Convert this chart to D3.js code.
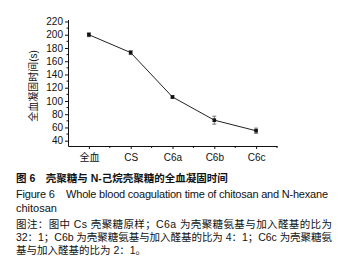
<!DOCTYPE html>
<html>
<head>
<meta charset="utf-8">
<script src="https://cdn.jsdelivr.net/npm/d3@7"></script>
<style>
  body { margin: 0; background: #fff; }
  text { font-family: "Liberation Sans", Arial, "Noto Sans CJK SC", sans-serif; fill: #111; white-space: pre; }
</style>
</head>
<body>
<div id="chart"></div>
<script>
var width = 341, height = 269;

// Data
var categories = ["全血", "CS", "C6a", "C6b", "C6c"];
var clotTime = [200, 173, 106, 71, 55];
var clotErr = [3, 3, 2, 6, 4];
var yTicks = [40, 60, 80, 100, 120, 140, 160, 180, 200, 220];
var yLabel = "全血凝固时间(s)";
var titleZh = "图 6　壳聚糖与 N-己烷壳聚糖的全血凝固时间";
var titleEn = ["Figure 6    Whole blood coagulation time of chitosan and N-hexane", "chitosan"];
var notes = [
  "图注：图中 Cs 壳聚糖原样；C6a 为壳聚糖氨基与加入醛基的比为",
  "32：1；C6b 为壳聚糖氨基与加入醛基的比为 4：1；C6c 为壳聚糖氨",
  "基与加入醛基的比为 2：1。"
];

var svg = d3.select("#chart").append("svg")
  .attr("width", width)
  .attr("height", height);

svg.append("rect").attr("width", width).attr("height", height).attr("fill", "#fff");

// scales
var x = d3.scalePoint().domain(categories).range([68, 277]).padding(0.5);
var y = d3.scaleLinear().domain([32, 223]).range([146, 19.5]);

// y axis
var yAxis = svg.append("g").attr("transform", "translate(68,0)")
  .call(d3.axisLeft(y).tickValues(yTicks).tickSize(3).tickSizeOuter(0));
yAxis.selectAll("text").attr("font-size", 10).attr("dx", 1);
// minor y ticks
svg.append("g").selectAll("line")
  .data(d3.range(50, 221, 20))
  .enter().append("line")
    .attr("x1", 66.5).attr("x2", 68)
    .attr("y1", function(d) { return y(d); })
    .attr("y2", function(d) { return y(d); })
    .attr("stroke", "#111");

// x axis
var xAxis = svg.append("g").attr("transform", "translate(0,146)")
  .call(d3.axisBottom(x).tickSize(3).tickSizeOuter(0));
xAxis.selectAll("text").attr("font-size", 10).attr("dy", "0.9em");
// minor x ticks between categories
var step = x.step();
svg.append("g").selectAll("line")
  .data(categories)
  .enter().append("line")
    .attr("x1", function(d) { return x(d) + step / 2; })
    .attr("x2", function(d) { return x(d) + step / 2; })
    .attr("y1", 146).attr("y2", 148)
    .attr("stroke", "#111");

svg.selectAll(".domain").attr("stroke", "#111");
svg.selectAll(".tick line").attr("stroke", "#111");

// y label
svg.append("text")
  .attr("transform", "translate(37,86) rotate(-90)")
  .attr("text-anchor", "middle")
  .attr("font-size", 10)
  .text(yLabel);

// line
var pts = categories.map(function(c, i) { return { c: c, v: clotTime[i], e: clotErr[i] }; });
svg.append("path")
  .datum(pts)
  .attr("fill", "none")
  .attr("stroke", "#222")
  .attr("stroke-width", 1)
  .attr("d", d3.line().x(function(d) { return x(d.c); }).y(function(d) { return y(d.v); }));

// error bars
var eb = svg.append("g").attr("stroke", "#555").attr("stroke-width", 0.8);
pts.forEach(function(d) {
  var cx = x(d.c);
  eb.append("line").attr("x1", cx).attr("x2", cx).attr("y1", y(d.v - d.e)).attr("y2", y(d.v + d.e));
  eb.append("line").attr("x1", cx - 2).attr("x2", cx + 2).attr("y1", y(d.v - d.e)).attr("y2", y(d.v - d.e));
  eb.append("line").attr("x1", cx - 2).attr("x2", cx + 2).attr("y1", y(d.v + d.e)).attr("y2", y(d.v + d.e));
});

// markers
svg.append("g").selectAll("rect")
  .data(pts)
  .enter().append("rect")
    .attr("x", function(d) { return x(d.c) - 1.8; })
    .attr("y", function(d) { return y(d.v) - 1.8; })
    .attr("width", 3.6).attr("height", 3.6)
    .attr("fill", "#111");

// captions
svg.append("text")
  .attr("x", 16).attr("y", 182)
  .attr("font-size", 10.5).attr("font-weight", "bold")
  .text(titleZh);

svg.selectAll(".en")
  .data(titleEn)
  .enter().append("text")
    .attr("class", "en")
    .attr("x", 16)
    .attr("y", function(d, i) { return 198 + i * 14; })
    .attr("font-size", 11)
    .attr("textLength", function(d, i) { return i == 0 ? 312 : null; })
    .attr("lengthAdjust", "spacing")
    .text(function(d) { return d; });

svg.selectAll(".note")
  .data(notes)
  .enter().append("text")
    .attr("class", "note")
    .attr("x", 16)
    .attr("y", function(d, i) { return 228 + i * 13; })
    .attr("font-size", 10.5)
    .attr("textLength", function(d, i) { return i < 2 ? 316 : null; })
    .attr("lengthAdjust", "spacing")
    .text(function(d) { return d; });
</script>
</body>
</html>
